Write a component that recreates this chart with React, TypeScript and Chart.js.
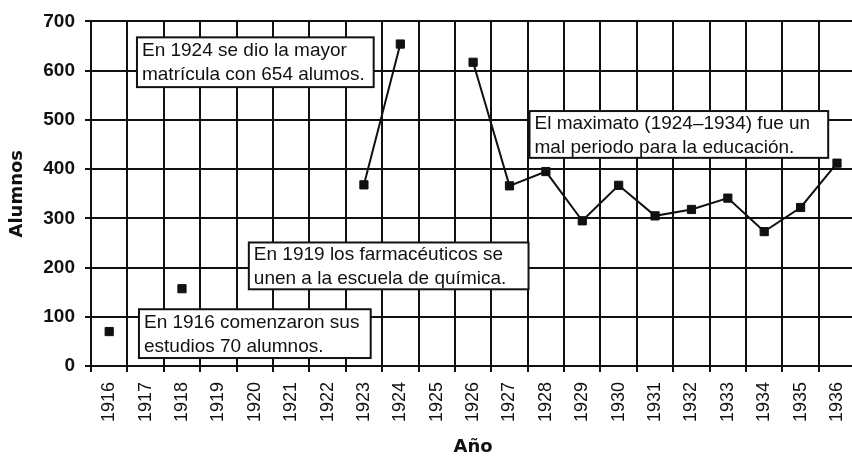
import React, { useEffect, useRef } from 'react';
import { Chart, registerables } from 'chart.js';

Chart.register(...registerables);

const years = ['1916', '1917', '1918', '1919', '1920', '1921', '1922', '1923', '1924', '1925', '1926',
  '1927', '1928', '1929', '1930', '1931', '1932', '1933', '1934', '1935', '1936'];
const alumnos = [70, null, 157, null, null, null, null, 368, 654, null, 617,
  366, 395, 295, 367, 305, 318, 341, 273, 322, 412];
const yTickValues = [0, 100, 200, 300, 400, 500, 600, 700];
const yTitle = 'Alumnos';
const xTitle = 'Año';

// Callout boxes, anchored in data units (category index, value)
const notes = [
  { lines: ['En 1924 se dio la mayor', 'matrícula con 654 alumos.'], x0: 0.763, x1: 7.268, y0: 667.6, y1: 566.5 },
  { lines: ['En 1916 comenzaron sus', 'estudios 70 alumnos.'], x0: 0.818, x1: 7.186, y0: 115.3, y1: 16.2 },
  { lines: ['En 1919 los farmacéuticos se', 'unen a la escuela de química.'], x0: 3.837, x1: 11.523, y0: 250.9, y1: 155.8 },
  { lines: ['El maximato (1924–1934) fue un', 'mal periodo para la educación.'], x0: 11.55, x1: 19.758, y0: 517.9, y1: 422.8 },
];

const INK = '#111111';

const notesPlugin = {
  id: 'notes',
  afterDraw(chart: any) {
    const { ctx } = chart;
    const x = chart.scales.x;
    const y = chart.scales.y;
    ctx.save();
    for (const n of notes) {
      const l = x.getPixelForValue(n.x0);
      const r = x.getPixelForValue(n.x1);
      const t = y.getPixelForValue(n.y0);
      const b = y.getPixelForValue(n.y1);
      ctx.fillStyle = '#ffffff';
      ctx.fillRect(l, t, r - l, b - t);
      ctx.lineWidth = 2;
      ctx.strokeStyle = INK;
      ctx.strokeRect(l, t, r - l, b - t);
      ctx.fillStyle = INK;
      ctx.font = '19px "Liberation Sans", Arial, sans-serif';
      ctx.textBaseline = 'middle';
      ctx.textAlign = 'left';
      const mid = (t + b) / 2;
      ctx.fillText(n.lines[0], l + 5, mid - 11);
      ctx.fillText(n.lines[1], l + 5, mid + 13);
    }
    ctx.restore();
  },
};

export default function App() {
  const ref = useRef<HTMLCanvasElement | null>(null);

  useEffect(() => {
    if (!ref.current) return;
    const chart = new Chart(ref.current, {
      type: 'line',
      data: {
        labels: years,
        datasets: [
          {
            data: alumnos,
            borderColor: INK,
            backgroundColor: INK,
            borderWidth: 2,
            pointStyle: 'rect',
            pointRadius: 5.8,
            pointBorderWidth: 1,
            pointBackgroundColor: INK,
            pointBorderColor: INK,
            tension: 0,
            spanGaps: false,
          },
        ],
      },
      options: {
        responsive: false,
        devicePixelRatio: 1,
        animation: false,
        layout: { padding: { top: 20, left: 0, right: 0, bottom: 0 } },
        plugins: {
          legend: { display: false },
          tooltip: { enabled: false },
        },
        scales: {
          x: {
            type: 'category',
            offset: true,
            grid: { offset: true, color: INK, lineWidth: 2, tickLength: 6, drawTicks: true },
            border: { color: INK, width: 2 },
            ticks: {
              autoSkip: false,
              minRotation: 90,
              maxRotation: 90,
              padding: 10,
              color: INK,
              font: { family: '"Liberation Sans", Arial, sans-serif', size: 18 },
            },
            title: {
              display: true,
              text: xTitle,
              color: INK,
              padding: { top: 0, bottom: 0 },
              font: { family: '"DejaVu Sans", sans-serif', size: 18, weight: 'bold', lineHeight: 1 },
            },
            afterFit: (scale: any) => {
              scale.height = 90;
              scale.paddingLeft = 0;
              scale.paddingRight = 0;
            },
          },
          y: {
            min: 0,
            max: 700,
            afterBuildTicks: (scale: any) => { scale.ticks = yTickValues.map((v) => ({ value: v })); },
            grid: { color: INK, lineWidth: 2, tickLength: 6, drawTicks: true },
            border: { color: INK, width: 2 },
            ticks: {
              padding: 10,
              color: INK,
              font: { family: '"Liberation Sans", Arial, sans-serif', size: 19, weight: 'bold' },
            },
            title: {
              display: true,
              text: yTitle,
              color: INK,
              padding: { top: 7, bottom: 0 },
              font: { family: '"DejaVu Sans", sans-serif', size: 18, weight: 'bold' },
            },
            afterFit: (scale: any) => { scale.width = 91; },
          },
        },
      },
      plugins: [notesPlugin],
    });
    return () => chart.destroy();
  }, []);

  return (
    <div style={{ position: 'fixed', left: 0, top: 0, width: 852, height: 456, overflow: 'hidden', background: '#fff' }}>
      <canvas ref={ref} width={862} height={456} style={{ display: 'block' }} />
    </div>
  );
}
